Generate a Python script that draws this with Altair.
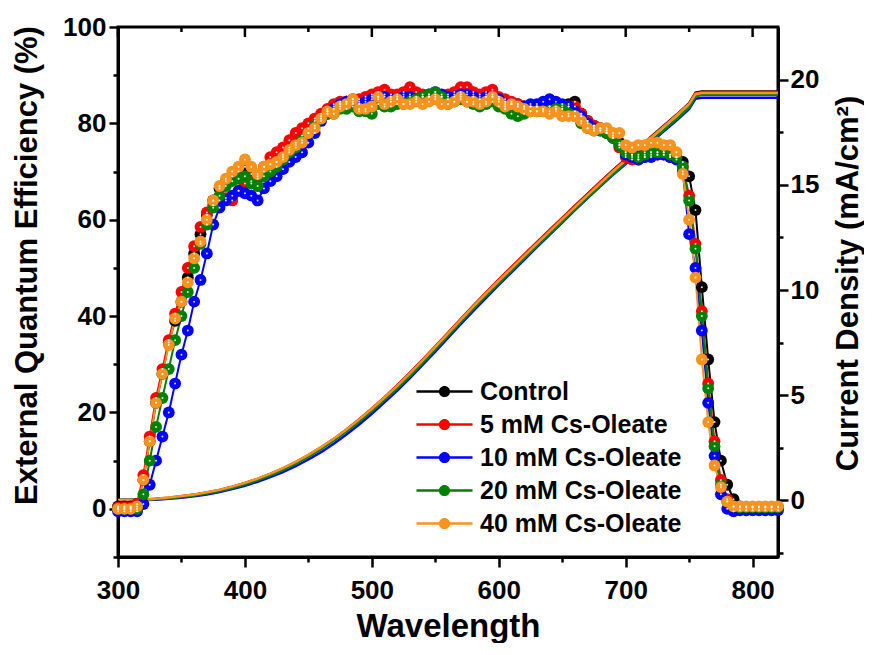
import altair as alt
import pandas as pd

# ---------------- data ----------------
wavelength = list(range(300, 825, 5))  # 105 sample wavelengths (nm)

series_names = ["Control", "5 mM Cs-Oleate", "10 mM Cs-Oleate",
                "20 mM Cs-Oleate", "40 mM Cs-Oleate"]
series_colors = ["#000000", "#ff0000", "#0000ff", "#008000", "#f7931e"]

eqe_control = [
    0.5, 0.5, 0.5, 1.0, 6, 14, 22, 28, 34.5, 39,
    43, 48, 53, 57, 61, 64, 66.5, 68, 69, 70,
    71, 69.5, 68.5, 70, 71.5, 72, 73.5, 75, 76, 77.5,
    79, 80.5, 81.5, 82.5, 83.5, 84, 84.5, 84, 84.5, 85,
    85.5, 85.5, 86, 85.5, 85.5, 86, 86, 85.5, 85.5, 85.5,
    86, 85.5, 85, 86, 86.5, 86.5, 86, 85.5, 86, 86,
    85, 84.5, 84, 84, 83.5, 83.5, 83.5, 83, 83.5, 83.5,
    83.5, 84, 84.5, 82, 80.5, 79.5, 79, 78.5, 77.5, 76,
    74, 73.5, 73.5, 74, 74, 74, 74, 73.5, 73, 72,
    69, 62, 46, 31, 18, 10, 5, 2, 0.5, 0.3,
    0.3, 0.3, 0.3, 0.3, 0.3]

eqe_5mM = [
    0.3, 0.3, 0.3, 1, 7, 15, 23, 29, 35, 40.5,
    45, 50, 54.5, 58.5, 61.5, 63, 64, 64.5, 64, 66,
    67.5, 68, 69, 71, 73, 74, 75, 76.5, 78, 79,
    80, 81, 82, 83, 84, 84.5, 84.5, 85, 85, 85.5,
    86, 86.5, 87, 86, 86, 86.5, 87.5, 86.5, 86, 85.5,
    85.5, 85.5, 86, 86.5, 87.5, 87.5, 86.5, 86, 86.5, 87,
    85.5, 85, 84.5, 84, 83.5, 83.5, 83.5, 83, 83.5, 83,
    83, 83.5, 83.5, 82, 80.5, 79.5, 79, 78.5, 77, 75,
    73, 72.5, 72.5, 73, 73.5, 73.5, 73.5, 73, 73, 71,
    65, 55, 41, 26, 14, 6, 2, 0.5, 0.3, 0.3,
    0.3, 0.3, 0.3, 0.3, 0.3]

eqe_10mM = [
    -0.5, -0.5, -0.5, -0.5, 1, 5, 10, 15, 20, 26,
    32, 37, 43, 47.5, 53, 59, 62.5, 64, 65, 66,
    65.5, 65, 64, 66.5, 68, 69, 70.5, 72, 73, 74,
    76, 78, 80.5, 82, 83, 84, 84.5, 84.5, 84, 84.5,
    85, 85, 85.5, 85, 85, 85.5, 85.5, 85, 85.5, 86,
    86.5, 86, 85.5, 85.5, 86, 86, 85.5, 85, 85.5, 85.5,
    85, 84, 84, 83.5, 83.5, 84, 84, 84.5, 85, 84.5,
    84, 83.5, 82.5, 81.5, 80, 79, 78.5, 78, 77, 75.5,
    73.5, 73, 72.5, 73, 73, 73.5, 73.5, 73, 72.5, 70,
    57, 50, 37, 22, 11, 3, 0, -0.5, -0.3, -0.3,
    -0.3, -0.3, -0.3, -0.3, -0.3]

eqe_20mM = [
    0, 0, 0, 0, 3, 10, 17, 23, 29, 35,
    40, 45, 50, 55, 59, 62.5, 65, 67, 68, 68.5,
    69, 67.5, 67, 69, 70, 71, 72.5, 74, 75, 76.5,
    78, 79.5, 81, 82, 82, 83, 83, 83.5, 82.5, 82.5,
    82, 84, 83.5, 83.5, 84, 84, 84.5, 85, 85.5, 86,
    86.5, 85.5, 84, 84.5, 85, 84.5, 84, 83.5, 84, 84.5,
    83.5, 83, 82, 81.5, 82, 82.5, 82.5, 82.5, 82.5, 83,
    83, 82, 81.5, 80, 79, 78.5, 78.5, 78, 77, 75.5,
    74, 73.5, 73, 73.5, 74, 74, 74, 73.5, 73, 71,
    64, 54, 40, 25, 13, 5, 1.5, 0.5, 0.3, 0.3,
    0.3, 0.3, 0.3, 0.3, 0.3]

eqe_40mM = [
    0, 0, 0, 0.5, 6, 14, 22, 28, 34, 39.5,
    43, 47, 52, 55.5, 60, 64, 67, 68.5, 70, 71,
    72.5, 71, 69.5, 71, 71.5, 72, 73, 74.5, 75.5, 76,
    78, 79, 81, 82.5, 82, 83.5, 84, 85, 83, 83,
    83.5, 85.5, 84, 84.5, 85, 84, 84, 84.5, 84, 84.5,
    85, 84, 84, 84.5, 85.5, 84.5, 84.5, 84, 84.5, 85.5,
    84.5, 83.5, 84, 83.5, 83, 82.5, 82.5, 82.5, 82, 82.5,
    81.5, 81.5, 81.5, 80.5, 79, 78.5, 79, 79, 78, 78,
    75.5, 75, 75.5, 75.5, 76, 76, 75.5, 75.5, 74, 69.5,
    60, 48, 31, 18, 9, 4.5, 1.5, 0.5, 0.5, 0.5,
    0.5, 0.5, 0.5, 0.5, 0.5]

# integrated current density (mA/cm^2)
j_wavelength = list(range(300, 760, 10)) + [755] + list(range(760, 830, 10))

j_control = [
    0, 0, 0.02, 0.05, 0.1, 0.17, 0.25, 0.35, 0.47, 0.62,
    0.8, 1.0, 1.24, 1.5, 1.8, 2.13, 2.5, 2.9, 3.35, 3.83,
    4.34, 4.88, 5.44, 6.04, 6.66, 7.3, 7.95, 8.6, 9.24, 9.86,
    10.46, 11.06, 11.66, 12.26, 12.84, 13.42, 14.0, 14.58, 15.14, 15.7,
    16.24, 16.78, 17.3, 17.82, 18.34, 18.9,
    19.4,
    19.45, 19.45, 19.45, 19.45, 19.45, 19.45, 19.45]

j_5mM = [
    0, 0, 0.02, 0.06, 0.11, 0.18, 0.26, 0.36, 0.48, 0.63,
    0.81, 1.01, 1.25, 1.51, 1.81, 2.14, 2.51, 2.91, 3.36, 3.85,
    4.36, 4.9, 5.47, 6.07, 6.69, 7.32, 7.96, 8.61, 9.26, 9.89,
    10.5, 11.1, 11.69, 12.28, 12.86, 13.43, 14.01, 14.58, 15.14, 15.69,
    16.22, 16.75, 17.27, 17.79, 18.31, 18.86,
    19.36,
    19.42, 19.42, 19.42, 19.42, 19.42, 19.42, 19.42]

j_10mM = [
    0, 0, 0, 0.02, 0.06, 0.11, 0.18, 0.27, 0.38, 0.52,
    0.68, 0.87, 1.09, 1.33, 1.61, 1.93, 2.28, 2.68, 3.12, 3.6,
    4.11, 4.65, 5.21, 5.81, 6.43, 7.07, 7.72, 8.37, 9.01, 9.63,
    10.24, 10.84, 11.44, 12.04, 12.63, 13.21, 13.8, 14.37, 14.93, 15.48,
    16.0, 16.52, 17.03, 17.55, 18.07, 18.62,
    19.1,
    19.15, 19.15, 19.15, 19.15, 19.15, 19.15, 19.15]

j_20mM = [
    0, 0, 0.01, 0.04, 0.08, 0.14, 0.22, 0.31, 0.43, 0.57,
    0.74, 0.94, 1.17, 1.43, 1.72, 2.05, 2.42, 2.82, 3.26, 3.73,
    4.23, 4.76, 5.31, 5.9, 6.52, 7.16, 7.81, 8.46, 9.1, 9.72,
    10.32, 10.91, 11.5, 12.09, 12.67, 13.25, 13.83, 14.4, 14.96, 15.51,
    16.04, 16.57, 17.09, 17.61, 18.13, 18.69,
    19.2,
    19.3, 19.3, 19.3, 19.3, 19.3, 19.3, 19.3]

j_40mM = [
    0, 0, 0.02, 0.06, 0.12, 0.19, 0.27, 0.37, 0.49, 0.64,
    0.82, 1.02, 1.26, 1.52, 1.82, 2.15, 2.52, 2.92, 3.36, 3.84,
    4.35, 4.88, 5.44, 6.03, 6.65, 7.29, 7.93, 8.58, 9.22, 9.84,
    10.44, 11.03, 11.62, 12.21, 12.79, 13.37, 13.95, 14.52, 15.08, 15.64,
    16.18, 16.72, 17.25, 17.78, 18.31, 18.86,
    19.33,
    19.38, 19.38, 19.38, 19.38, 19.38, 19.38, 19.38]

x_major_ticks = [300, 400, 500, 600, 700, 800]
x_minor_ticks = [350, 450, 550, 650, 750]
eqe_ticks = [-10, 0, 10, 20, 30, 40, 50, 60, 70, 80, 90, 100]
j_ticks = [-2.5, 0, 2.5, 5, 7.5, 10, 12.5, 15, 17.5, 20]

eqe_lists = [eqe_control, eqe_5mM, eqe_10mM, eqe_20mM, eqe_40mM]
j_lists = [j_control, j_5mM, j_10mM, j_20mM, j_40mM]
for v in eqe_lists:
    assert len(v) == len(wavelength), len(v)
for v in j_lists:
    assert len(v) == len(j_wavelength), len(v)

eqe_frames = []
for name, vals in zip(series_names, eqe_lists):
    eqe_frames.append(pd.DataFrame({"wavelength": wavelength, "eqe": vals, "series": name}))
df_eqe = pd.concat(eqe_frames, ignore_index=True)

j_frames = []
for name, vals in zip(series_names, j_lists):
    j_frames.append(pd.DataFrame({"wavelength": j_wavelength, "j": vals, "series": name}))

df_major = pd.DataFrame({"wavelength": x_major_ticks})
df_minor = pd.DataFrame({"wavelength": x_minor_ticks})

# ---------------- styling ----------------
FONT = "Liberation Sans"
color_scale = alt.Scale(domain=series_names, range=series_colors)
x_scale = alt.Scale(domain=[300, 820], nice=False, zero=False)
y_eqe_scale = alt.Scale(domain=[-10, 100], nice=False, zero=False)
y_j_scale = alt.Scale(domain=[-2.71, 22.52], nice=False, zero=False)

x_axis = alt.Axis(
    values=x_major_ticks + x_minor_ticks,
    labelExpr="datum.value % 100 === 0 ? datum.label : ''",
    tickSize={"condition": {"test": "datum.value % 100 === 0", "value": 10}, "value": 5},
    labelFlush=False, labelPadding=10,
    title="Wavelength", titleFontSize=33,
    titleX=330, titleY=79, titleAlign="center", titleBaseline="alphabetic",
)
y_eqe_axis = alt.Axis(
    orient="left", values=eqe_ticks,
    labelExpr="(datum.value % 20 === 0 && datum.value >= 0) ? datum.label : ''",
    tickSize={"condition": {"test": "datum.value % 20 === 0", "value": 9}, "value": 5},
    labelPadding=3,
    title="External Quantum Efficiency (%)", titleFontSize=31,
    titleAngle=270, titleX=-82, titleY=238, titleAlign="center",
    titleBaseline="alphabetic",
)
y_j_axis = alt.Axis(
    orient="right", values=j_ticks,
    labelExpr="datum.value % 5 === 0 ? datum.label : ''",
    tickSize={"condition": {"test": "datum.value % 5 === 0", "value": 10}, "value": 5},
    labelPadding=2,
    title="Current Density (mA/cm²)", titleFontSize=31,
    titleAngle=270, titleX=79, titleY=256, titleAlign="center",
    titleBaseline="alphabetic",
)

legend_path = ("M-3,-0.13H-0.55V0.13H-3Z"
               "M0.55,-0.13H3V0.13H0.55Z"
               "M-0.6,0A0.6,0.6,0,1,1,0.6,0A0.6,0.6,0,1,1,-0.6,0Z")
legend = alt.Legend(
    title=None, orient="none", legendX=314, legendY=352,
    symbolType=legend_path, symbolSize=349, symbolStrokeWidth=0,
    symbolOpacity=1,
    labelFont=FONT, labelFontSize=25, labelFontWeight="bold", labelColor="black",
    labelLimit=400, labelOffset=23, rowPadding=7, padding=0,
)

X = alt.X("wavelength:Q", scale=x_scale, axis=x_axis)
Y_EQE = alt.Y("eqe:Q", scale=y_eqe_scale, axis=y_eqe_axis)
Y_J = alt.Y("j:Q", scale=y_j_scale, axis=y_j_axis)

j_layer = alt.layer(*[
    alt.Chart(df).mark_line(color=c, strokeWidth=2.5).encode(x=X, y=Y_J)
    for df, c in zip(j_frames, series_colors)
])

eqe_lines = [
    alt.Chart(df).mark_line(color=c, strokeWidth=2).encode(x=X, y=Y_EQE)
    for df, c in zip(eqe_frames, series_colors)
]
eqe_points = alt.Chart(df_eqe).mark_circle(size=140, opacity=1).encode(
    x=X, y=Y_EQE,
    color=alt.Color("series:N", scale=color_scale, legend=legend),
)
eqe_highlight = alt.Chart(df_eqe).mark_circle(size=4, opacity=0.85, color="white").encode(
    x=X, y=Y_EQE,
)
top_major = alt.Chart(df_major).mark_rule(color="black", strokeWidth=2.5).encode(
    x=X, y=alt.value(0), y2=alt.value(10)
)
top_minor = alt.Chart(df_minor).mark_rule(color="black", strokeWidth=2.5).encode(
    x=X, y=alt.value(0), y2=alt.value(5)
)

eqe_layer = alt.layer(*eqe_lines, eqe_points, eqe_highlight, top_major, top_minor)

chart = (
    alt.layer(j_layer, eqe_layer)
    .resolve_scale(y="independent")
    .properties(
        width=660, height=530,
        padding={"left": 110, "top": 19, "right": 86, "bottom": 86},
        autosize=alt.AutoSizeParams(type="none"),
    )
    .configure_view(stroke="black", strokeWidth=3)
    .configure_axis(
        grid=False, domainColor="black", domainWidth=3,
        tickColor="black", tickWidth=2.5,
        labelFont=FONT, labelFontSize=26, labelFontWeight="bold", labelColor="black",
        titleFont=FONT, titleFontWeight="bold", titleColor="black",
    )
)

chart.save("out.html", embed_options={"renderer": "svg", "actions": False})
